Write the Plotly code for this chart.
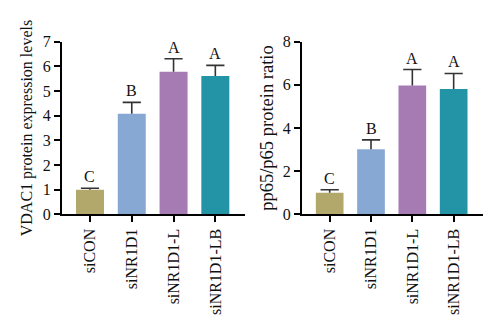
import plotly.graph_objects as go

groups = ["siCON", "siNR1D1", "siNR1D1-L", "siNR1D1-LB"]
colors = ["#b3a86c", "#88a8d4", "#a67bb4", "#2393a6"]
vdac1_mean = [1.0, 4.08, 5.78, 5.61]
vdac1_err = [0.06, 0.46, 0.53, 0.43]
pp65_mean = [1.0, 3.02, 5.97, 5.81]
pp65_err = [0.14, 0.43, 0.74, 0.72]
letters_left = ["C", "B", "A", "A"]
letters_right = ["C", "B", "A", "A"]
ylabel_left = "VDAC1 protein expression levels"
ylabel_right = "pp65/p65 protein ratio"

FONT = "Liberation Serif"
ERR_COLOR = "#333333"
fig = go.Figure()

def add_panel(vals, errs, letters, xa, ya):
    tops = [v + e for v, e in zip(vals, errs)]
    fig.add_trace(go.Bar(
        x=groups, y=vals, marker_color=colors, marker_line_width=0,
        width=0.67, xaxis=xa, yaxis=ya, showlegend=False, hoverinfo="skip",
    ))
    fig.add_trace(go.Scatter(
        x=groups, y=tops, mode="markers", xaxis=xa, yaxis=ya, showlegend=False,
        marker=dict(symbol="line-ew-open", size=13, color=ERR_COLOR,
                    line=dict(width=1.6, color=ERR_COLOR)),
        error_y=dict(type="data", array=[0]*len(errs), arrayminus=errs,
                     symmetric=False, color=ERR_COLOR, thickness=1.6, width=0),
    ))
    for g, t, l in zip(groups, tops, letters):
        fig.add_annotation(x=g, y=t, text=l, xref=xa, yref=ya,
                           showarrow=False, yanchor="bottom", yshift=1,
                           font=dict(family=FONT, size=16, color="#111"))

add_panel(vdac1_mean, vdac1_err, letters_left, "x", "y")
add_panel(pp65_mean, pp65_err, letters_right, "x2", "y2")

axis_common = dict(showline=True, linecolor="black", linewidth=2,
                   ticks="outside", tickcolor="black", tickwidth=2, ticklen=6,
                   showgrid=False, zeroline=False,
                   tickfont=dict(family=FONT, size=16, color="#111"))

ydom = [1 - 217.5 / 333, 1 - 35.5 / 333]
fig.update_layout(
    width=500, height=333, margin=dict(l=0, r=0, t=0, b=0),
    plot_bgcolor="white", paper_bgcolor="white",
    xaxis=dict(domain=[62 / 500, 245 / 500], range=[-0.67, 3.71],
               tickangle=-90, anchor="y", **axis_common),
    yaxis=dict(domain=ydom, range=[0, 7], dtick=1, anchor="x",
               title=dict(text=ylabel_left, font=dict(family=FONT, size=16, color="#111"), standoff=6),
               **axis_common),
    xaxis2=dict(domain=[302 / 500, 483 / 500], range=[-0.67, 3.71],
                tickangle=-90, anchor="y2", **axis_common),
    yaxis2=dict(domain=ydom, range=[0, 8], dtick=2, anchor="x2",
                title=dict(text=ylabel_right, font=dict(family=FONT, size=18.5, color="#111"), standoff=4),
                **axis_common),
)

fig.write_html("out.html")
